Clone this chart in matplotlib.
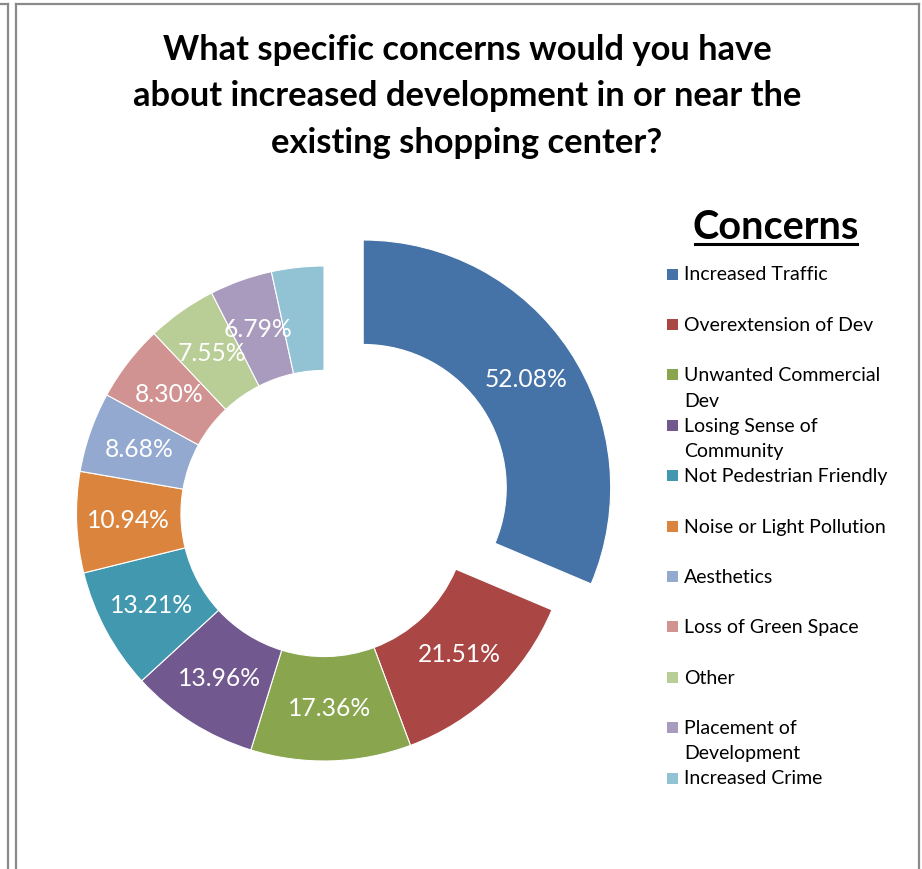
import matplotlib
matplotlib.use("Agg")
import matplotlib.pyplot as plt
from matplotlib.lines import Line2D
from matplotlib.patches import Rectangle
import numpy as np

W, H = 922, 869
DPI = 100

title = "What specific concerns would you have\nabout increased development in or near the\nexisting shopping center?"
legend_title = "Concerns"

categories = [
    "Increased Traffic",
    "Overextension of Dev",
    "Unwanted Commercial\nDev",
    "Losing Sense of\nCommunity",
    "Not Pedestrian Friendly",
    "Noise or Light Pollution",
    "Aesthetics",
    "Loss of Green Space",
    "Other",
    "Placement of\nDevelopment",
    "Increased Crime",
]
percents = [52.08, 21.51, 17.36, 13.96, 13.21, 10.94, 8.68, 8.30, 7.55, 6.79, 5.66]
show_label = [True] * 10 + [False]
colors = ["#4572A7", "#AA4643", "#89A54E", "#71588F", "#4198AF", "#DB843D",
          "#93A9CF", "#D19392", "#B9CD96", "#A99BBD", "#92C3D5"]

FONT = ["Lato", "DejaVu Sans"]
plt.rcParams["font.family"] = FONT

fig = plt.figure(figsize=(W / DPI, H / DPI), dpi=DPI)


def px(x, y):
    """pixel (from top-left) -> figure fraction"""
    return x / W, 1 - y / H


# page frame lines
frame_col = "#8a8a8a"
for (x0, y0), (x1, y1) in [((0, 3.5), (8, 3.5)), ((7.8, 3.5), (7.8, H)),
                           ((15.5, 4), (919, 4)), ((15.5, 4), (15.5, H)),
                           ((919, 4), (919, H))]:
    a, b = px(x0, y0)
    c, d = px(x1, y1)
    fig.add_artist(Line2D([a, c], [b, d], color=frame_col, lw=1.6,
                          transform=fig.transFigure))

# title
tx, ty = px(467, 96.5)
fig.text(tx, ty, title, ha="center", va="center", fontsize=24.8,
         fontweight="bold", linespacing=1.54, color="#000000")

# donut
cx, cy, R = 324, 513.5, 247.5
L = 1.3
S = 2 * L * R
ax = fig.add_axes([(cx - S / 2) / W, (H - cy - S / 2) / H, S / W, S / H])
ax.axis("off")

ring = 0.422
explode = [0.19] + [0] * (len(percents) - 1)
wedges, _ = ax.pie(percents, colors=colors, startangle=90, counterclock=False,
                   explode=explode, radius=1,
                   wedgeprops=dict(width=ring, edgecolor="white", linewidth=0.8))
ax.set_xlim(-L, L)
ax.set_ylim(-L, L)
ax.set_aspect("equal")
for w in wedges:
    w.set_clip_on(False)

total = sum(percents)
mid_r = 1 - ring / 2
ang = 90.0
for i, p in enumerate(percents):
    span = p / total * 360
    mid = np.deg2rad(ang - span / 2)
    ang -= span
    if not show_label[i]:
        continue
    r = mid_r + explode[i]
    ax.text(r * np.cos(mid), r * np.sin(mid), f"{p:.2f}%", ha="center",
            va="center", color="white", fontsize=17.7)

# legend
lx, ly = px(776, 227)
fig.text(lx, ly, legend_title, ha="center", va="center", fontsize=28.5,
         fontweight="bold")
a, b = px(695, 244)
c, d = px(857, 244)
fig.add_artist(Line2D([a, c], [b, d], color="black", lw=2.2,
                      transform=fig.transFigure))

y0 = 274
step = 50.4
for i, (lab, col) in enumerate(zip(categories, colors)):
    y = y0 + i * step
    rx, ry = px(667, y + 5.5)
    fig.add_artist(Rectangle((rx, ry), 11 / W, 11 / H, facecolor=col,
                             edgecolor="none", transform=fig.transFigure))
    tx2, ty2 = px(684, y - 7.5)
    fig.text(tx2, ty2, lab, ha="left", va="top", fontsize=14,
             linespacing=1.6)

fig.savefig("out.png", dpi=DPI)
